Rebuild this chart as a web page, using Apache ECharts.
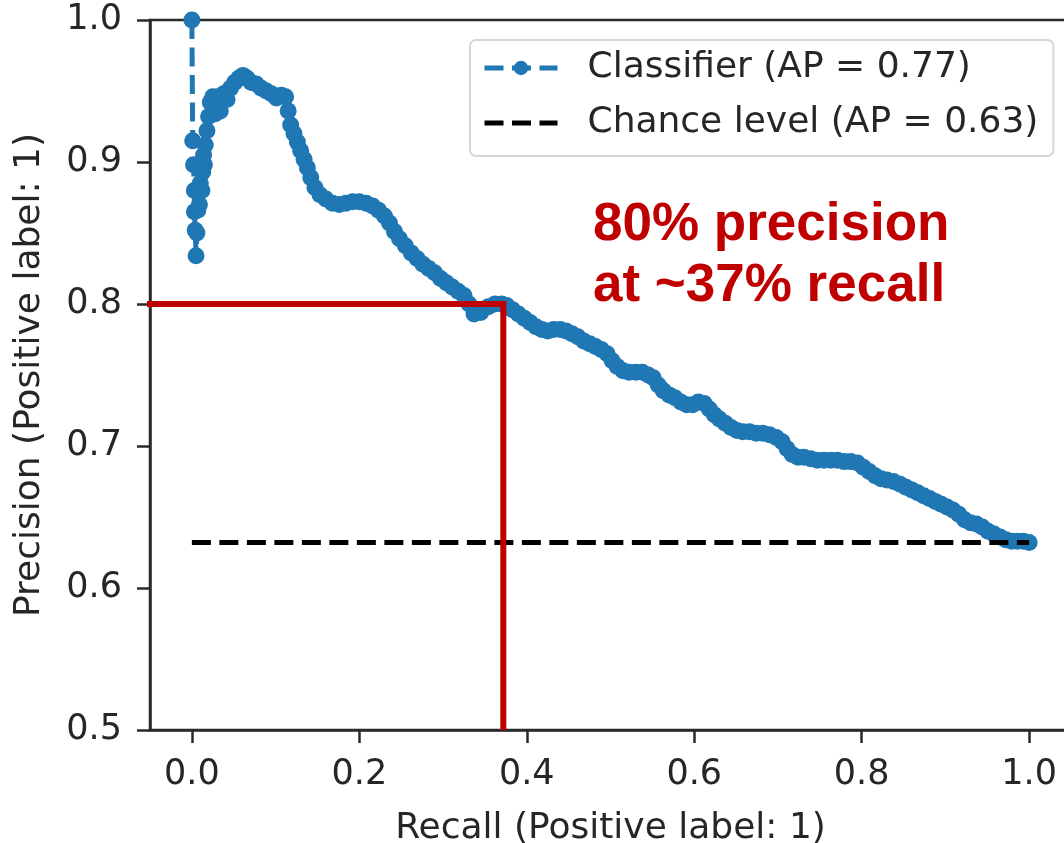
<!DOCTYPE html>
<html><head><meta charset="utf-8">
<script src="https://cdn.jsdelivr.net/npm/echarts@6/dist/echarts.min.js"></script>
<style>html,body{margin:0;padding:0;background:#fff}#c{width:1064px;height:843px}</style>
</head><body><div id="c"></div>
<script>
// Precision-recall curve
const recall = [0.000,0.001,0.002,0.003,0.003,0.004,0.005,0.006,0.007,0.008,0.009,0.010,0.011,0.012,0.013,0.014,0.015,0.016,0.018,0.020,0.022,0.025,0.028,0.031,0.034,0.038,0.042,0.046,0.051,0.056,0.061,0.066,0.071,0.077,0.083,0.089,0.095,0.101,0.107,0.112,0.115,0.118,0.122,0.126,0.130,0.134,0.138,0.142,0.147,0.153,0.160,0.168,0.176,0.184,0.192,0.200,0.208,0.216,0.223,0.230,0.236,0.242,0.248,0.255,0.262,0.269,0.276,0.283,0.290,0.297,0.304,0.311,0.318,0.325,0.331,0.337,0.345,0.354,0.362,0.370,0.376,0.383,0.390,0.397,0.404,0.411,0.418,0.425,0.432,0.440,0.447,0.454,0.461,0.468,0.475,0.482,0.489,0.496,0.502,0.508,0.515,0.522,0.530,0.538,0.545,0.551,0.557,0.563,0.570,0.577,0.584,0.591,0.598,0.605,0.612,0.618,0.624,0.630,0.637,0.644,0.651,0.658,0.666,0.674,0.682,0.690,0.698,0.705,0.711,0.717,0.724,0.731,0.739,0.747,0.755,0.763,0.771,0.779,0.787,0.795,0.802,0.809,0.816,0.823,0.830,0.838,0.846,0.853,0.860,0.867,0.874,0.881,0.888,0.895,0.902,0.909,0.916,0.923,0.930,0.937,0.944,0.951,0.958,0.965,0.972,0.979,0.986,0.993,1.000];
const precision = [1.000,0.915,0.898,0.880,0.865,0.852,0.834,0.850,0.866,0.880,0.870,0.885,0.897,0.880,0.893,0.905,0.898,0.912,0.922,0.932,0.942,0.946,0.934,0.946,0.936,0.948,0.944,0.952,0.956,0.959,0.961,0.959,0.956,0.955,0.952,0.950,0.948,0.945,0.947,0.946,0.936,0.926,0.920,0.914,0.908,0.902,0.896,0.889,0.882,0.877,0.874,0.871,0.870,0.871,0.872,0.872,0.871,0.869,0.866,0.862,0.857,0.851,0.846,0.841,0.836,0.832,0.828,0.825,0.822,0.818,0.815,0.812,0.809,0.806,0.800,0.793,0.794,0.798,0.800,0.800,0.799,0.796,0.793,0.790,0.787,0.784,0.782,0.781,0.782,0.782,0.781,0.779,0.777,0.774,0.772,0.770,0.768,0.765,0.760,0.756,0.753,0.752,0.752,0.752,0.750,0.748,0.743,0.739,0.736,0.734,0.731,0.729,0.729,0.731,0.730,0.726,0.722,0.719,0.716,0.713,0.711,0.710,0.710,0.709,0.709,0.708,0.706,0.703,0.698,0.694,0.692,0.692,0.691,0.690,0.690,0.690,0.690,0.689,0.689,0.688,0.685,0.682,0.679,0.677,0.676,0.675,0.673,0.671,0.669,0.667,0.665,0.663,0.661,0.659,0.657,0.655,0.652,0.648,0.646,0.645,0.643,0.640,0.638,0.636,0.634,0.633,0.633,0.633,0.632];
const chanceRecall = [0, 1];
const chancePrecision = [0.632, 0.632];
const guideRecall = [-0.057, 0.372, 0.372];
const guidePrecision = [0.8, 0.8, 0.5];
const xTickValues = [0.0, 0.2, 0.4, 0.6, 0.8, 1.0];
const annotationText = '80% precision\nat ~37% recall';
const classifierName = 'Classifier (AP = 0.77)';
const chanceName = 'Chance level (AP = 0.63)';

const zip = (a, b) => a.map((v, i) => [v, b[i]]);
const FONT = 'DejaVu Sans';
const TXT = '#262626';
const AX = '#2a2a2a';

const chart = echarts.init(document.getElementById('c'), null, {renderer: 'canvas'});
chart.setOption({
  animation: false,
  backgroundColor: '#fff',
  grid: {left: 150, right: -7, top: 20, bottom: 113, containLabel: false, outerBoundsMode: 'none',
         show: true, borderColor: AX, borderWidth: 2.5, backgroundColor: 'transparent'},
  xAxis: {
    type: 'value', min: -0.05, max: 1.05,
    name: 'Recall (Positive label: 1)', nameLocation: 'middle', nameGap: 81,
    nameTextStyle: {fontFamily: FONT, fontSize: 36, color: TXT},
    axisLine: {show: true, onZero: false, lineStyle: {color: AX, width: 2.5}},
    axisTick: {show: true, inside: false, length: 13, customValues: xTickValues, lineStyle: {color: AX, width: 2.5}},
    axisLabel: {customValues: xTickValues, margin: 27, fontFamily: FONT, fontSize: 35, color: TXT, formatter: v => v.toFixed(1)},
    splitLine: {show: false}
  },
  yAxis: {
    type: 'value', min: 0.5, max: 1.0, interval: 0.1,
    name: 'Precision (Positive label: 1)', nameLocation: 'middle', nameGap: 102,
    nameTextStyle: {fontFamily: FONT, fontSize: 36, color: TXT},
    axisLine: {show: true, onZero: false, lineStyle: {color: AX, width: 2.5}},
    axisTick: {show: true, inside: false, length: 13, lineStyle: {color: AX, width: 2.5}},
    axisLabel: {margin: 28, fontFamily: FONT, fontSize: 35, color: TXT, formatter: v => v.toFixed(1)},
    splitLine: {show: false}
  },
  legend: {
    data: [classifierName, {name: chanceName, itemStyle: {opacity: 0}}],
    orient: 'vertical', left: 470, top: 40,
    itemWidth: 73, itemHeight: 18, itemGap: 19,
    padding: [10, 15, 15, 12],
    backgroundColor: '#fff', borderColor: '#d6d6d6', borderWidth: 2, borderRadius: 6,
    selectedMode: false,
    lineStyle: {width: 5},
    textStyle: {fontFamily: FONT, fontSize: 36, color: TXT, lineHeight: 36, padding: [0, 0, 0, 25]}
  },
  series: [
    {
      name: classifierName, type: 'line', data: zip(recall, precision),
      symbol: 'circle', symbolSize: 17, showAllSymbol: true,
      itemStyle: {color: '#1f77b4'},
      lineStyle: {color: '#1f77b4', width: 5, type: [19, 8.5]},
      z: 2
    },
    {
      name: chanceName, type: 'line', data: zip(chanceRecall, chancePrecision),
      symbol: 'none',
      lineStyle: {color: '#000', width: 5, type: [19, 8.5]},
      itemStyle: {color: '#000'},
      z: 3
    },
    {
      name: 'guide', type: 'line', data: zip(guideRecall, guidePrecision),
      symbol: 'none', clip: false,
      lineStyle: {color: '#c00000', width: 6, cap: 'butt', join: 'miter'},
      z: 4
    }
  ],
  graphic: [{
    type: 'text', left: 593, top: 195, z: 10,
    style: {text: annotationText, fontFamily: 'Liberation Sans, Arial, sans-serif', fontWeight: 'bold', fontSize: 53, lineHeight: 61, fill: '#c00000'}
  }]
});
</script></body></html>
